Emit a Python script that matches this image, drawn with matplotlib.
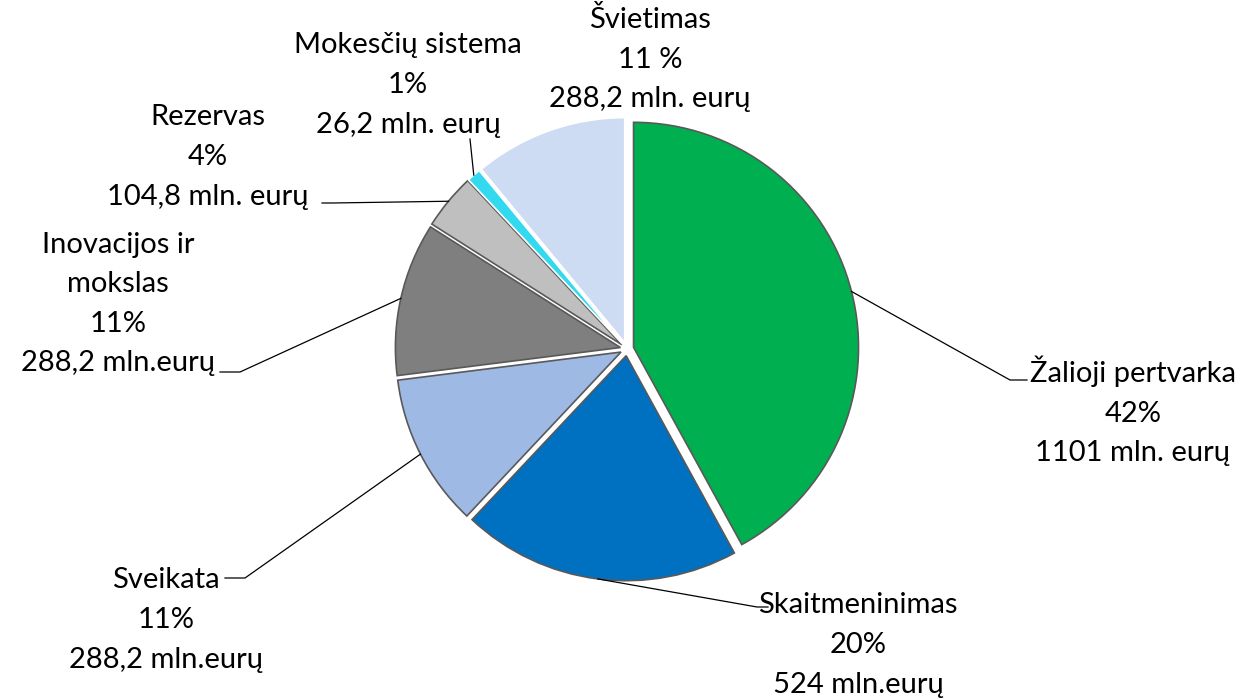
import numpy as np
import matplotlib.pyplot as plt

# data
labels = ["Žalioji pertvarka", "Skaitmeninimas", "Sveikata", "Inovacijos ir\nmokslas",
          "Rezervas", "Mokesčių sistema", "Švietimas"]
values = [1101, 524, 288.2, 288.2, 104.8, 26.2, 288.2]
percents = ["42%", "20%", "11%", "11%", "4%", "1%", "11 %"]
amounts = ["1101 mln. eurų", "524 mln.eurų", "288,2 mln.eurų", "288,2 mln.eurų",
           "104,8 mln. eurų", "26,2 mln. eurų", "288,2 mln. eurų"]
colors = ["#00B050", "#0070C0", "#9EB9E4", "#7F7F7F", "#BFBFBF", "#33D9EE", "#CDDBF3"]

W, H = 1249, 699
fig = plt.figure(figsize=(W / 100, H / 100), dpi=100)
ax = fig.add_axes([0, 0, 1, 1])

cx, cy, R = 627, H - 349, 225
expl = 0.03 * R
wedges, _ = ax.pie(values, colors=colors, startangle=90, counterclock=False,
                   center=(cx, cy), radius=R, explode=[expl] * len(values),
                   wedgeprops=dict(edgecolor="#595959", linewidth=1.2))
wedges[5].set_edgecolor("white")
wedges[6].set_edgecolor("white")

ax.set_xlim(0, W)
ax.set_ylim(0, H)
ax.set_aspect("equal")
ax.axis("off")

# label layout (pixel positions, top-left origin): text center, elbow, end of horizontal
label_pos = [(1133, 411), (858, 645), (166, 620), (118, 304), (208, 157), (408, 85), (650, 59)]
elbows = [(1010, 380), (757, 607), (245, 578), (240, 372), (332, 203), (470, 139), None]
ends = [(1027, 380), (768, 607), (225, 578), (220, 372), (322, 203), None, None]

for i, w in enumerate(wedges):
    tx, ty = label_pos[i]
    ax.text(tx, H - ty, f"{labels[i]}\n{percents[i]}\n{amounts[i]}", ha="center", va="center",
            fontsize=21, family="Lato", linespacing=1.65, color="#000000")
    if elbows[i] is None:
        continue
    mid = np.deg2rad((w.theta1 + w.theta2) / 2)
    ox, oy = w.center
    sx, sy = ox + R * np.cos(mid), oy + R * np.sin(mid)
    ex, ey = elbows[i]
    xs, ys = [sx, ex], [sy, H - ey]
    if ends[i] is not None:
        xs.append(ends[i][0])
        ys.append(H - ends[i][1])
    ax.plot(xs, ys, color="#000000", linewidth=0.9)

fig.savefig("out.png", dpi=100)
